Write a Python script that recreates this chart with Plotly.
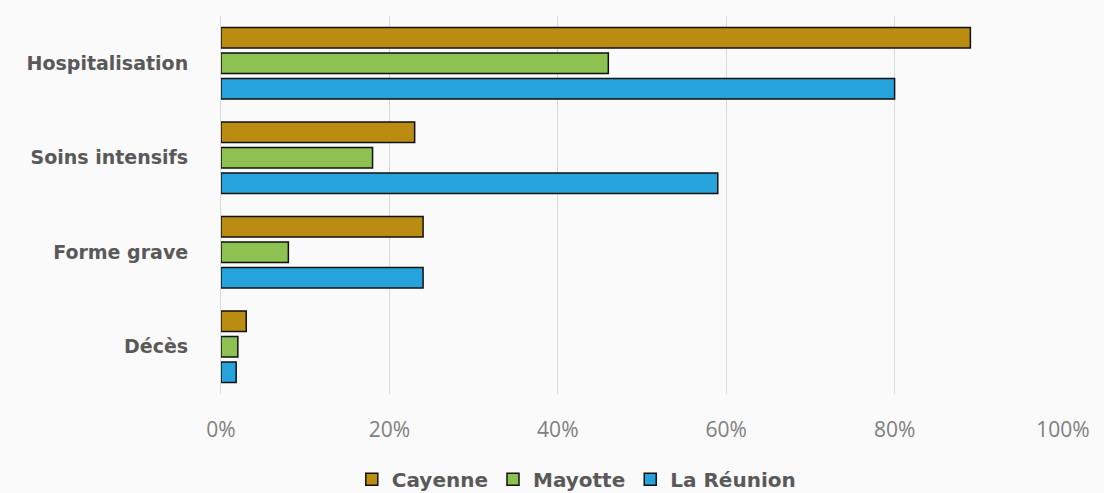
import plotly.graph_objects as go

categories = ["Hospitalisation", "Soins intensifs", "Forme grave", "Décès"]
cayenne = [89, 23, 24, 3]
mayotte = [46, 18, 8, 2]
reunion = [80, 59, 24, 1.8]
x_ticks = [0, 20, 40, 60, 80, 100]
x_tick_labels = ["0%", "20%", "40%", "60%", "80%", "100%"]

series = [
    ("Cayenne", cayenne, "#BA8C12"),
    ("Mayotte", mayotte, "#8DC152"),
    ("La Réunion", reunion, "#27A3DC"),
]

fig = go.Figure()
for name, vals, color in series:
    fig.add_trace(go.Bar(
        y=categories, x=vals, name=name, orientation="h",
        marker=dict(color=color, line=dict(color="#111111", width=1.5)),
    ))

fig.update_layout(
    width=1104, height=493,
    margin=dict(l=221, r=41, t=16, b=99),
    paper_bgcolor="#FAFAFA", plot_bgcolor="#FAFAFA",
    barmode="group", bargap=0.19, bargroupgap=0.2,
    font=dict(family="Open Sans, sans-serif", color="#6b6b6b"),
    showlegend=True,
    legend=dict(orientation="h", xref="container", x=0.522, xanchor="center",
                yref="container", y=0.028, yanchor="middle",
                font=dict(size=20, color="#595959", family="DejaVu Sans, sans-serif", weight="bold"),
                itemwidth=30, traceorder="normal", bgcolor="rgba(0,0,0,0)"),
    xaxis=dict(range=[0, 100], tickvals=x_ticks, ticktext=x_tick_labels,
               showgrid=True, gridcolor="#D9D9D9", gridwidth=1, zeroline=False,
               ticks="outside", ticklen=17, tickcolor="rgba(0,0,0,0)",
               tickfont=dict(size=21, color="#7f7f7f")),
    yaxis=dict(autorange="reversed", showgrid=False, showline=True,
               linecolor="#D9D9D9", linewidth=1,
               ticks="outside", ticklen=28, tickcolor="rgba(0,0,0,0)",
               tickfont=dict(size=19, color="#595959", family="DejaVu Sans, sans-serif",
                             weight="bold")),
)

fig.write_html("out.html")
